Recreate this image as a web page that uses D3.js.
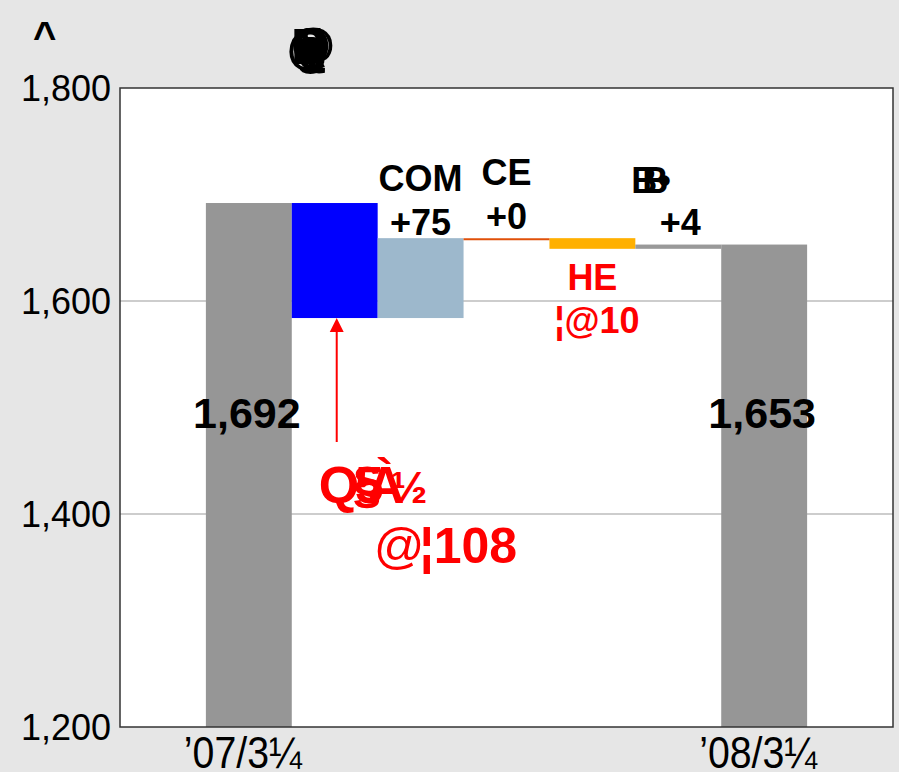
<!DOCTYPE html>
<html>
<head>
<meta charset="utf-8">
<script src="https://cdn.jsdelivr.net/npm/d3@7"></script>
<style>
  body { margin: 0; background: #e6e6e6; }
  svg { display: block; }
</style>
</head>
<body>
<div id="chart"></div>
<script>

// data
const categories = ['start', 'qsa', 'com', 'ce', 'he', 'b', 'end'];
const values = [1692, -108, 75, 0, -10, 4, 1653];
const isTotal = [true, false, false, false, false, false, true];
const barColors = ['#969696', '#0000ff', '#9db8cc', '#e0500a', '#ffb000', '#999999', '#969696'];
const xTickLabels = ['\u201907/3\u00bc', '', '', '', '', '', '\u201908/3\u00bc'];
const yTicks = [1200, 1400, 1600, 1800];
const topLabels = ['', '', 'COM', 'CE', '', '', ''];
const deltaLabels = ['', '', '+75', '+0', '', '+4', ''];


class Waterfall {

  constructor(container) {

    this._width = 899;
    this._height = 772;
    this._left = 120;
    this._right = 893;
    this._top = 88;
    this._bottom = 727;

    this._svg = d3.select(container)
      .append('svg')
      .attr('width', this._width)
      .attr('height', this._height);
  }

  setData() {

    let run = 0;
    this._bars = categories.map((c, i) => {
      const v = values[i];
      let lo, hi;
      if (isTotal[i]) {
        lo = 1200; hi = v; run = v;
      } else {
        const next = run + v;
        lo = Math.min(run, next); hi = Math.max(run, next);
        run = next;
      }
      return { key: c, value: v, lo: lo, hi: hi, color: barColors[i], i: i };
    });
    return this;
  }

  render() {

    const svg = this._svg;

    this._x = d3.scaleBand()
      .domain(categories)
      .range([this._left, this._right])
      .paddingInner(0)
      .paddingOuter(1);

    this._y = d3.scaleLinear()
      .domain([1200, 1800])
      .range([this._bottom, this._top]);

    const x = this._x;
    const y = this._y;

    svg.append('rect')
      .attr('x', this._left)
      .attr('y', this._top)
      .attr('width', this._right - this._left)
      .attr('height', this._bottom - this._top)
      .style('fill', '#fff');

    // grid
    svg.append('g')
      .selectAll('line')
      .data(yTicks.filter(t => t > 1200 && t < 1800))
      .join('line')
      .attr('x1', this._left)
      .attr('x2', this._right)
      .attr('y1', d => y(d))
      .attr('y2', d => y(d))
      .style('stroke', '#bdbdbd')
      .style('stroke-width', 1.5);

    // bars
    svg.append('g')
      .selectAll('rect')
      .data(this._bars)
      .join('rect')
      .attr('x', d => x(d.key))
      .attr('width', x.bandwidth())
      .attr('y', d => y(d.hi))
      .attr('height', d => Math.max(0, y(d.lo) - y(d.hi)))
      .style('fill', d => d.color);

    // zero change drawn as a line
    this._bars.filter(d => d.value === 0 && !isTotal[d.i]).forEach(d => {
      svg.append('line')
        .attr('x1', x(d.key))
        .attr('x2', x(d.key) + x.bandwidth())
        .attr('y1', y(d.hi) + 1)
        .attr('y2', y(d.hi) + 1)
        .style('stroke', d.color)
        .style('stroke-width', 2);
    });

    // frame
    svg.append('rect')
      .attr('x', this._left)
      .attr('y', this._top)
      .attr('width', this._right - this._left)
      .attr('height', this._bottom - this._top)
      .style('fill', 'none')
      .style('stroke', '#333')
      .style('stroke-width', 1.5);

    // y axis labels
    svg.append('g')
      .selectAll('text')
      .data(yTicks)
      .join('text')
      .attr('x', this._left - 9)
      .attr('y', d => y(d) + 13)
      .attr('text-anchor', 'end')
      .style('font', '36px "Liberation Sans", Arial, sans-serif')
      .text(d => d3.format(',')(d));

    // x axis labels (condensed)
    svg.append('g')
      .selectAll('text')
      .data(categories.map((c, i) => ({ key: c, label: xTickLabels[i] })).filter(d => d.label))
      .join('text')
      .attr('x', d => x(d.key) + x.bandwidth() / 2 - 6)
      .attr('y', 768)
      .attr('text-anchor', 'middle')
      .attr('textLength', 118)
      .attr('lengthAdjust', 'spacingAndGlyphs')
      .style('font', '45px "Liberation Sans", Arial, sans-serif')
      .text(d => d.label);

    this._renderLabels();
    return this;
  }

  _renderLabels() {

    const svg = this._svg;
    const x = this._x;
    const y = this._y;
    const cx = k => x(k) + x.bandwidth() / 2;
    const bold = size => `bold ${size}px "Liberation Sans", Arial, sans-serif`;

    // totals inside bars
    this._bars.filter(d => isTotal[d.i]).forEach(d => {
      svg.append('text')
        .attr('x', cx(d.key) - 2)
        .attr('y', 428)
        .attr('text-anchor', 'middle')
        .style('font', bold(43))
        .text(d3.format(',')(d.value));
    });

    // black headings and deltas
    categories.forEach((c, i) => {
      if (topLabels[i]) {
        svg.append('text')
          .attr('x', cx(c))
          .attr('y', i === 3 ? 185 : 191)
          .attr('text-anchor', 'middle')
          .style('font', bold(36))
          .text(topLabels[i]);
      }
      if (deltaLabels[i]) {
        svg.append('text')
          .attr('x', cx(c) + (i === 5 ? 2 : 0))
          .attr('y', i === 3 ? 229 : 235)
          .attr('text-anchor', 'middle')
          .style('font', bold(36))
          .text(deltaLabels[i]);
      }
    });

    // garbled heading above +4
    [['B', -27], ['B', -16], ['\u2022', 0]].forEach(([g, dx]) => {
      svg.append('text')
        .attr('x', cx('b') - 20 + dx)
        .attr('y', 193)
        .style('font', bold(36))
        .text(g);
    });

    // HE (-10) in red
    svg.append('text')
      .attr('x', cx('he'))
      .attr('y', 290)
      .attr('text-anchor', 'middle')
      .style('font', bold(36))
      .style('fill', '#ff0000')
      .text('HE');
    svg.append('text')
      .attr('x', cx('he') - 38)
      .attr('y', 333)
      .style('font', bold(36))
      .style('fill', '#ff0000')
      .text('\u00a6@10');

    // -108 label stack
    const qx = cx('qsa') - 16;
    [['Q', 0, 52], ['\u00a7', 34, 52], ['5', 36, 52], ['\u00c0', 48, 52], ['\u00bd', 72, 44]].forEach(([g, dx, s]) => {
      svg.append('text')
        .attr('x', qx + dx)
        .attr('y', 503)
        .style('font', bold(s))
        .style('fill', '#ff0000')
        .text(g);
    });
    svg.append('text')
      .attr('x', qx + 55)
      .attr('y', 563)
      .style('font', '50px "Liberation Sans", Arial, sans-serif')
      .style('fill', '#ff0000')
      .text('@');
    svg.append('text')
      .attr('x', qx + 101)
      .attr('y', 563)
      .style('font', bold(50))
      .style('fill', '#ff0000')
      .text('\u00a6108');

    // arrow up to the blue bar
    const ax = cx('qsa') + 2;
    const blue = this._bars[1];
    svg.append('line')
      .attr('x1', ax)
      .attr('x2', ax)
      .attr('y1', 442)
      .attr('y2', y(blue.lo) + 10)
      .style('stroke', '#ff0000')
      .style('stroke-width', 2);
    svg.append('path')
      .attr('d', `M${ax - 7},${y(blue.lo) + 14}L${ax},${y(blue.lo)}L${ax + 7},${y(blue.lo) + 14}Z`)
      .style('fill', '#ff0000');

    // top left caret and garbled title blob
    svg.append('text')
      .attr('x', 33)
      .attr('y', 50)
      .style('font', bold(40))
      .text('^');
    [['\u00f5', 0, 50], ['g', 0, 50], ['@', 0, 50], ['Q', 0, 50], ['\u00a7', 2, 50], ['B', -2, 50], ['\u25cf', 0, 40]].forEach(([g, dx, s]) => {
      svg.append('text')
        .attr('x', 311 + dx)
        .attr('y', 64)
        .attr('text-anchor', 'middle')
        .style('font', bold(s))
        .text(g);
    });
  }
}

const waterfallChart = new Waterfall('#chart').setData().render();
</script>
</body>
</html>
